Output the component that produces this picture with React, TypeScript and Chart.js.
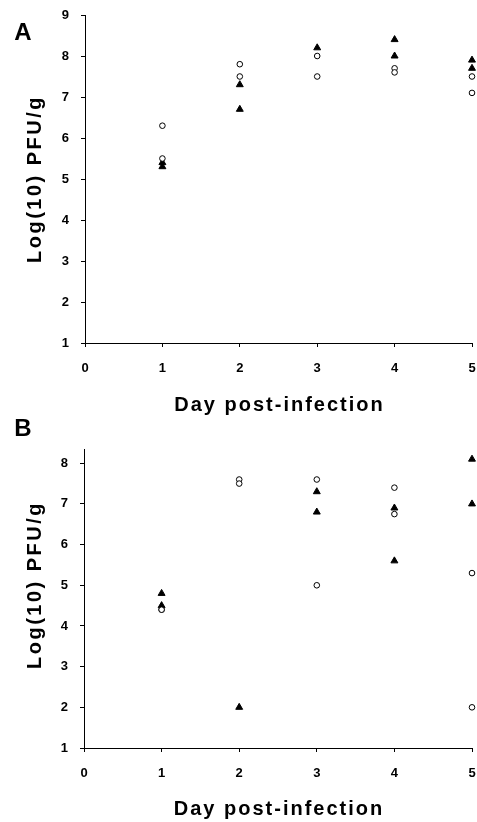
import React, { useEffect, useRef } from "react";
import { Chart, registerables } from "chart.js";

Chart.register(...registerables);

// ---- data ----
const dayTicks = [0, 1, 2, 3, 4, 5];
const panelATicks = [1, 2, 3, 4, 5, 6, 7, 8, 9];
const panelBTicks = [1, 2, 3, 4, 5, 6, 7, 8];

const xTitle = "Day post-infection";
const yTitle = "Log(10) PFU/g";

const aCircleDays = [1, 1, 2, 2, 3, 3, 4, 4, 5, 5];
const aCircleValues = [6.3, 5.5, 7.8, 7.5, 8.0, 7.5, 7.7, 7.6, 7.5, 7.1];
const aTriangleDays = [1, 1, 2, 2, 3, 4, 4, 5, 5];
const aTriangleValues = [5.4, 5.3, 7.3, 6.7, 8.2, 8.4, 8.0, 7.9, 7.7];

const bCircleDays = [1, 1, 2, 2, 3, 3, 4, 4, 5, 5];
const bCircleValues = [4.4, 4.4, 7.6, 7.5, 7.6, 5.0, 7.4, 6.75, 5.3, 2.0];
const bTriangleDays = [1, 1, 2, 3, 3, 4, 4, 5, 5];
const bTriangleValues = [4.8, 4.5, 2.0, 7.3, 6.8, 6.9, 5.6, 8.1, 7.0];

const FONT = '"Liberation Sans", Arial, Helvetica, sans-serif';

const toPoints = (xs: number[], ys: number[]) => xs.map((x, i) => ({ x, y: ys[i] }));

const textPlugin = {
  id: "panelText",
  afterDraw(chart: any, _args: any, opts: any) {
    const { ctx, chartArea } = chart;
    ctx.save();
    ctx.fillStyle = "#000";
    ctx.textAlign = "center";
    ctx.textBaseline = "middle";
    ctx.font = `bold 24px ${FONT}`;
    ctx.fillText(opts.letter, opts.letterX, opts.letterY);
    ctx.font = `bold 20px ${FONT}`;
    try { (ctx as any).letterSpacing = "2px"; } catch (e) {}
    ctx.fillText(opts.xTitle, (chartArea.left + chartArea.right) / 2 + 1, chartArea.bottom + opts.xTitleOffset);
    try { (ctx as any).letterSpacing = "2.5px"; } catch (e) {}
    ctx.translate(opts.yTitleX, opts.yTitleY);
    ctx.rotate(-Math.PI / 2);
    ctx.fillText(opts.yTitle, 0, 0);
    try { (ctx as any).letterSpacing = "0px"; } catch (e) {}
    ctx.restore();
  },
};

type PanelProps = {
  letter: string;
  top: number;
  height: number;
  area: { left: number; right: number; top: number; bottom: number };
  yMin: number;
  yMax: number;
  yTicks: number[];
  circleDays: number[];
  circleValues: number[];
  triangleDays: number[];
  triangleValues: number[];
  letterY: number;
  yTitleY: number;
  xTitleOffset: number;
};

function Panel(p: PanelProps) {
  const ref = useRef<HTMLCanvasElement | null>(null);
  useEffect(() => {
    if (!ref.current) return;
    const W = 477;
    const chart = new Chart(ref.current, {
      type: "scatter",
      data: {
        datasets: [
          {
            label: "circles",
            data: toPoints(p.circleDays, p.circleValues),
            pointStyle: "circle",
            pointRadius: 2.8,
            pointBackgroundColor: "#fff",
            pointBorderColor: "#000",
            pointBorderWidth: 1,
            clip: false,
          } as any,
          {
            label: "triangles",
            data: toPoints(p.triangleDays, p.triangleValues),
            pointStyle: "triangle",
            pointRadius: 4,
            pointBackgroundColor: "#000",
            pointBorderColor: "#000",
            pointBorderWidth: 1,
            clip: false,
          } as any,
        ],
      },
      options: {
        animation: false,
        responsive: false,
        maintainAspectRatio: false,
        events: [],
        layout: {
          padding: { left: 0, top: p.area.top, right: W - p.area.right, bottom: 0 },
        },
        plugins: {
          legend: { display: false },
          tooltip: { enabled: false },
          panelText: {
            letter: p.letter,
            letterX: 23,
            letterY: p.letterY,
            xTitle,
            yTitle,
            xTitleOffset: p.xTitleOffset,
            yTitleX: 35,
            yTitleY: p.yTitleY,
          },
        } as any,
        scales: {
          x: {
            type: "linear",
            min: dayTicks[0],
            max: dayTicks[dayTicks.length - 1],
            afterBuildTicks: (s: any) => {
              s.ticks = dayTicks.map((v) => ({ value: v }));
            },
            afterFit: (s: any) => {
              s.height = p.height - p.area.bottom;
              s.paddingLeft = 0;
              s.paddingRight = 0;
            },
            ticks: {
              color: "#000",
              font: { family: FONT, size: 13, weight: "bold" },
              padding: 14,
              maxRotation: 0,
              autoSkip: false,
              callback: (v: any) => String(v),
            },
            grid: { display: true, drawOnChartArea: false, drawTicks: true, tickLength: 4, color: "#000", lineWidth: 1 },
            border: { display: true, color: "#000", width: 1 },
          },
          y: {
            type: "linear",
            min: p.yMin,
            max: p.yMax,
            afterBuildTicks: (s: any) => {
              s.ticks = p.yTicks.map((v) => ({ value: v }));
            },
            afterFit: (s: any) => {
              s.width = p.area.left;
              s.paddingTop = 0;
              s.paddingBottom = 0;
            },
            ticks: {
              color: "#000",
              font: { family: FONT, size: 13, weight: "bold" },
              padding: 12,
              autoSkip: false,
              callback: (v: any) => String(v),
            },
            grid: { display: true, drawOnChartArea: false, drawTicks: true, tickLength: 4, color: "#000", lineWidth: 1 },
            border: { display: true, color: "#000", width: 1 },
          },
        },
      },
      plugins: [textPlugin as any],
    });
    return () => chart.destroy();
  }, []);
  return (
    <div style={{ position: "absolute", left: 0, top: p.top, width: 477, height: p.height }}>
      <canvas ref={ref} width={477} height={p.height} style={{ display: "block", width: 477, height: p.height }} />
    </div>
  );
}

export default function App() {
  return (
    <div style={{ position: "absolute", left: 0, top: 0, width: 477, height: 822, background: "#fff", overflow: "hidden" }}>
      <Panel
        letter="A"
        top={0}
        height={422}
        area={{ left: 85, right: 475, top: 15, bottom: 343 }}
        yMin={1}
        yMax={9}
        yTicks={panelATicks}
        circleDays={aCircleDays}
        circleValues={aCircleValues}
        triangleDays={aTriangleDays}
        triangleValues={aTriangleValues}
        letterY={33}
        yTitleY={179}
        xTitleOffset={62}
      />
      <Panel
        letter="B"
        top={410}
        height={412}
        area={{ left: 84, right: 473, top: 39, bottom: 338 }}
        yMin={1}
        yMax={8.35}
        yTicks={panelBTicks}
        circleDays={bCircleDays}
        circleValues={bCircleValues}
        triangleDays={bTriangleDays}
        triangleValues={bTriangleValues}
        letterY={19}
        yTitleY={175}
        xTitleOffset={61}
      />
    </div>
  );
}
